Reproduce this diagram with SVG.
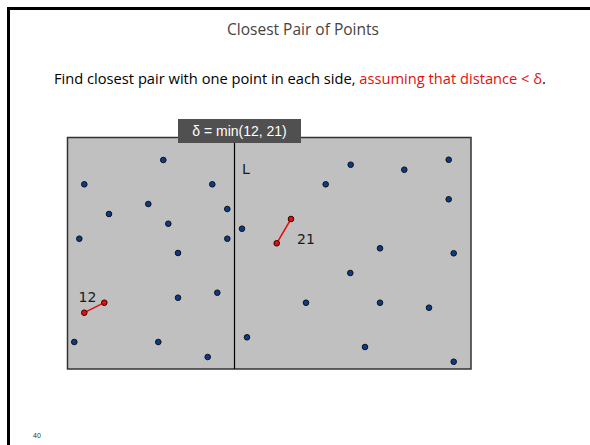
<svg xmlns="http://www.w3.org/2000/svg" width="590" height="445" viewBox="0 0 590 445">
<style>
.pt{fill:#0a3a8c;stroke:#111;stroke-width:1}
.rp{fill:#dd1111;stroke:#330000;stroke-width:1}
.ln{stroke:#e01010;stroke-width:1.5;fill:none}
.lbl{font-family:"DejaVu Sans","Liberation Sans",sans-serif;font-size:14px;fill:#1a1a1a}
.hd{font-family:"Open Sans","Liberation Sans",sans-serif}
</style>
<rect x="0" y="0" width="590" height="445" fill="#fff"/>
<path d="M8.5 446 V8.5 H592" fill="none" stroke="#000" stroke-width="3"/>
<text class="hd" x="303" y="35" text-anchor="middle" font-size="15.5" fill="#444">Closest Pair of Points</text>
<text class="hd" x="54" y="84" font-size="14" fill="#000" textLength="492" lengthAdjust="spacingAndGlyphs">Find closest pair with one point in each side, <tspan fill="#e01010">assuming that distance &lt; δ</tspan>.</text>
<g id="plane">
<rect x="67.5" y="137.5" width="403.5" height="231.5" fill="#c0c0c0" stroke="#333" stroke-width="1.5"/>
<line x1="234.5" y1="137.5" x2="234.5" y2="369" stroke="#000" stroke-width="1.2"/>
<text class="lbl" x="242" y="174">L</text>
</g>
<g id="delta-label">
<rect x="178" y="119" width="123" height="24" fill="#505050"/>
<text x="239.5" y="136" text-anchor="middle" font-family="'Liberation Sans',sans-serif" font-size="14" fill="#fff">δ = min(12, 21)</text>
</g>
<g id="connectors">
<line class="ln" x1="291" y1="219" x2="276.7" y2="243.3"/>
<line class="ln" x1="104.3" y1="302.7" x2="84.3" y2="312.7"/>
</g>
<g id="points-left">
<circle class="pt" cx="163.3" cy="160" r="2.8"/>
<circle class="pt" cx="84.3" cy="184.3" r="2.8"/>
<circle class="pt" cx="212.3" cy="184.3" r="2.8"/>
<circle class="pt" cx="148.3" cy="204" r="2.8"/>
<circle class="pt" cx="109" cy="214" r="2.8"/>
<circle class="pt" cx="227.3" cy="209" r="2.8"/>
<circle class="pt" cx="168.3" cy="223.7" r="2.8"/>
<circle class="pt" cx="79.3" cy="238.7" r="2.8"/>
<circle class="pt" cx="227.3" cy="238.7" r="2.8"/>
<circle class="pt" cx="178" cy="253" r="2.8"/>
<circle class="pt" cx="178" cy="297.7" r="2.8"/>
<circle class="pt" cx="217.3" cy="292.7" r="2.8"/>
<circle class="pt" cx="74.3" cy="342" r="2.8"/>
<circle class="pt" cx="158.3" cy="342" r="2.8"/>
<circle class="pt" cx="207.7" cy="357" r="2.8"/>
</g>
<g id="points-right">
<circle class="pt" cx="242" cy="228.7" r="2.8"/>
<circle class="pt" cx="350.7" cy="164.7" r="2.8"/>
<circle class="pt" cx="404.3" cy="169.7" r="2.8"/>
<circle class="pt" cx="448.7" cy="159.7" r="2.8"/>
<circle class="pt" cx="325.7" cy="184.3" r="2.8"/>
<circle class="pt" cx="448.7" cy="199.3" r="2.8"/>
<circle class="pt" cx="380" cy="248.3" r="2.8"/>
<circle class="pt" cx="453.7" cy="253.3" r="2.8"/>
<circle class="pt" cx="350.3" cy="273" r="2.8"/>
<circle class="pt" cx="306" cy="302.7" r="2.8"/>
<circle class="pt" cx="380" cy="302.7" r="2.8"/>
<circle class="pt" cx="429" cy="307.7" r="2.8"/>
<circle class="pt" cx="247" cy="337.3" r="2.8"/>
<circle class="pt" cx="365" cy="347" r="2.8"/>
<circle class="pt" cx="453.7" cy="361.7" r="2.8"/>
</g>
<g id="pair-21">
<circle class="rp" cx="291" cy="219" r="2.8"/>
<circle class="rp" cx="276.7" cy="243.3" r="2.8"/>
<text class="lbl" x="297" y="243.5">21</text>
</g>
<g id="pair-12">
<circle class="rp" cx="104.3" cy="302.7" r="2.8"/>
<circle class="rp" cx="84.3" cy="312.7" r="2.8"/>
<text class="lbl" x="78.5" y="302">12</text>
</g>
<text x="33" y="438" font-family="'Liberation Sans',sans-serif" font-size="7" fill="#333">40</text>
</svg>
